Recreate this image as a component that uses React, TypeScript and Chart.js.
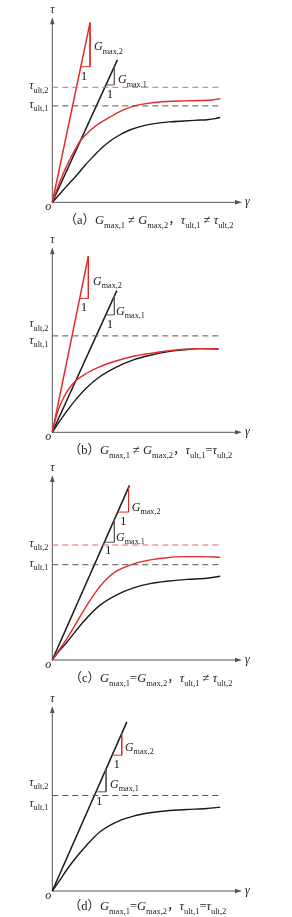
import React, { useEffect, useRef } from "react";
import { Chart, registerables } from "chart.js";
Chart.register(...registerables);

type P = [number, number];

// ---------- colours ----------
const RED = "#e12a2a";
const BLACK = "#1a1a1a";
const TRI_GRAY = "#5a5a5a";
const RED_DASH = "#e86464";
const GRAY_DASH = "#555555";
const AXIS = "#555555";

const DASH_END = 89.9;

// ---------- (a) ----------
const A_SECANT_2: P[] = [[0, 0], [20.0, 97.6]];
const A_TRI_2: P[] = [[20.0, 97.6], [20.0, 73.7], [15.1, 73.7]];
const A_SECANT_1: P[] = [[0, 0], [34.5, 77.4]];
const A_TRI_1: P[] = [[32.9, 73.8], [32.9, 63.8], [28.4, 63.8]];
const A_TAU_ULT_2 = 62.5;
const A_TAU_ULT_1 = 52.4;
const A_CURVE_2: P[] = [[0, 0], [1.4, 4.0], [4.1, 11.4], [7.6, 19.8], [11.2, 27.0], [15.0, 33.6], [20.0, 39.0], [25.3, 43.2], [30.0, 46.0], [36.0, 49.4], [43.0, 52.3], [51.9, 54.0], [60.7, 54.8], [69.6, 55.1], [78.4, 55.3], [84.6, 55.6], [89.0, 56.3]];
const A_CURVE_1: P[] = [[0, 0], [4.1, 4.6], [7.6, 8.8], [10.4, 11.8], [13.5, 15.4], [17.5, 20.3], [22.0, 25.2], [26.3, 29.6], [30.5, 33.2], [35.2, 36.3], [41.0, 39.3], [47.5, 41.4], [55.0, 42.9], [62.0, 43.7], [69.6, 44.2], [78.4, 44.7], [81.9, 44.9], [86.4, 45.5], [89.0, 46.2]];

// ---------- (b) ----------
const B_SECANT_2: P[] = [[0, 0], [19.1, 95.8]];
const B_TRI_2: P[] = [[19.1, 95.8], [19.1, 72.8], [14.5, 72.8]];
const B_SECANT_1: P[] = [[0, 0], [34.2, 77.0]];
const B_TRI_1: P[] = [[32.9, 74.1], [32.9, 63.8], [28.3, 63.8]];
const B_TAU_ULT = 52.4;
const B_CURVE_2: P[] = [[0, 0], [2.3, 9.4], [5.8, 18.5], [9.4, 24.5], [12.9, 28.4], [18.2, 32.1], [25.3, 35.7], [34.2, 38.9], [43.0, 41.3], [51.9, 42.9], [60.7, 44.2], [69.6, 45.1], [78.4, 45.5], [88.1, 45.3]];
const B_CURVE_1: P[] = [[0, 0], [4.1, 6.3], [7.6, 11.4], [12.9, 18.3], [18.2, 24.2], [25.3, 30.3], [34.2, 35.6], [43.0, 39.4], [51.9, 41.9], [60.7, 43.7], [69.6, 44.8], [78.4, 45.5], [88.1, 45.3]];

// ---------- (c) ----------
const C_SECANT: P[] = [[0, 0], [40.9, 94.9]];
const C_TRI_2: P[] = [[40.4, 93.7], [40.4, 80.4], [34.6, 80.4]];
const C_TRI_1: P[] = [[32.9, 76.3], [32.9, 64.0], [27.6, 64.0]];
const C_TAU_ULT_2 = 62.5;
const C_TAU_ULT_1 = 51.8;
const C_CURVE_2: P[] = [[0, 0], [4.1, 6.2], [7.6, 11.4], [12.9, 20.4], [18.2, 29.6], [23.5, 37.6], [28.8, 44.0], [34.2, 48.4], [43.0, 52.2], [51.9, 54.4], [60.7, 55.6], [69.6, 56.2], [78.4, 56.2], [89.0, 55.8]];
const C_CURVE_1: P[] = [[0, 0], [4.1, 5.5], [7.6, 9.5], [16.5, 20.8], [25.3, 29.8], [34.2, 35.4], [43.0, 39.2], [51.9, 41.5], [60.7, 42.8], [71.3, 43.8], [81.9, 44.4], [89.0, 45.5]];

// ---------- (d) ----------
const D_SECANT: P[] = [[0, 0], [39.5, 91.9]];
const D_TRI_2: P[] = [[36.8, 85.6], [36.8, 73.8], [31.7, 73.8]];
const D_TRI_1: P[] = [[28.5, 66.3], [28.5, 53.9], [23.2, 53.9]];
const D_TAU_ULT = 51.9;
const D_CURVE: P[] = [[0, 0], [4.1, 6.0], [7.6, 11.4], [12.9, 18.6], [18.2, 24.9], [25.3, 32.2], [34.2, 37.6], [43.0, 40.7], [51.9, 42.5], [60.7, 43.6], [71.3, 44.3], [81.9, 44.8], [89.0, 45.6]];

// ---------- text ----------
type Seg = { t: string; it?: boolean; sub?: boolean };
const FAMILY = '"Liberation Serif", "Times New Roman", "Noto Sans CJK SC", serif';

const gLabel = (n: string): Seg[] => [{ t: "G", it: true }, { t: "max," + n, sub: true }];
const tLabel = (n: string): Seg[] => [{ t: "τ", it: true }, { t: "ult," + n, sub: true }];
const titleSegs = (letter: string, gRel: string, tRel: string): Seg[] => [
  { t: "（" + letter + "）" },
  ...gLabel("1"),
  { t: gRel },
  ...gLabel("2"),
  { t: "，" },
  ...tLabel("1"),
  { t: tRel },
  ...tLabel("2"),
];

function segFont(s: Seg, size: number) {
  const sz = s.sub ? size * 0.68 : size;
  return `${s.it ? "italic " : ""}${sz}px ${FAMILY}`;
}

function drawRich(ctx: CanvasRenderingContext2D, segs: Seg[], x: number, y: number, size: number, align: "left" | "center" | "right") {
  const widths = segs.map((s) => {
    ctx.font = segFont(s, size);
    return ctx.measureText(s.t).width;
  });
  const total = widths.reduce((a, b) => a + b, 0);
  let cx = align === "left" ? x : align === "right" ? x - total : x - total / 2;
  ctx.textBaseline = "alphabetic";
  ctx.textAlign = "left";
  segs.forEach((s, i) => {
    ctx.font = segFont(s, size);
    ctx.fillText(s.t, cx, s.sub ? y + size * 0.28 : y);
    cx += widths[i];
  });
}

// ---------- panel table ----------
type Tri = { pts: P[]; color: string; n: string; g: P; one: P };
type Dash = { y: number; color: string };
type Line = { pts: P[]; color: string };
type Panel = {
  top: number;
  height: number;
  originY: number;
  secants: Line[];
  tris: Tri[];
  dashes: Dash[];
  curves: Line[];
  ult: { y: number; n: string }[];
  title: Seg[];
  titleY: number;
  titleX: number;
};

const PANELS: Panel[] = [
  {
    top: 0, height: 230, originY: 202.3,
    secants: [{ pts: A_SECANT_2, color: RED }, { pts: A_SECANT_1, color: BLACK }],
    tris: [
      { pts: A_TRI_2, color: RED, n: "2", g: [22.1, 84.8], one: [16.8, 69.0] },
      { pts: A_TRI_1, color: TRI_GRAY, n: "1", g: [34.8, 66.9], one: [30.6, 59.3] },
    ],
    dashes: [{ y: A_TAU_ULT_2, color: RED_DASH }, { y: A_TAU_ULT_1, color: GRAY_DASH }],
    curves: [{ pts: A_CURVE_2, color: RED }, { pts: A_CURVE_1, color: BLACK }],
    ult: [{ y: A_TAU_ULT_2, n: "2" }, { y: A_TAU_ULT_1, n: "1" }],
    title: titleSegs("a", " ≠ ", " ≠ "), titleY: 224, titleX: 149,
  },
  {
    top: 230, height: 230, originY: 202.3,
    secants: [{ pts: B_SECANT_2, color: RED }, { pts: B_SECANT_1, color: BLACK }],
    tris: [
      { pts: B_TRI_2, color: RED, n: "2", g: [21.6, 82.3], one: [16.8, 68.1] },
      { pts: B_TRI_1, color: TRI_GRAY, n: "1", g: [33.8, 66.0], one: [30.6, 59.4] },
    ],
    dashes: [{ y: B_TAU_ULT, color: GRAY_DASH }],
    curves: [{ pts: B_CURVE_2, color: RED }, { pts: B_CURVE_1, color: BLACK }],
    ult: [{ y: 58.2, n: "2" }, { y: 49.2, n: "1" }],
    title: titleSegs("b", " ≠ ", "="), titleY: 224, titleX: 150.5,
  },
  {
    top: 460, height: 230, originY: 200,
    secants: [{ pts: C_SECANT, color: BLACK }],
    tris: [
      { pts: C_TRI_2, color: RED, n: "2", g: [42.1, 83.1], one: [37.6, 75.8] },
      { pts: C_TRI_1, color: TRI_GRAY, n: "1", g: [33.8, 66.9], one: [29.7, 60.0] },
    ],
    dashes: [{ y: C_TAU_ULT_2, color: RED_DASH }, { y: C_TAU_ULT_1, color: GRAY_DASH }],
    curves: [{ pts: C_CURVE_2, color: RED }, { pts: C_CURVE_1, color: BLACK }],
    ult: [{ y: C_TAU_ULT_2, n: "2" }, { y: C_TAU_ULT_1, n: "1" }],
    title: titleSegs("c", "=", " ≠ "), titleY: 222, titleX: 151,
  },
  {
    top: 690, height: 227, originY: 201,
    secants: [{ pts: D_SECANT, color: BLACK }],
    tris: [
      { pts: D_TRI_2, color: RED, n: "2", g: [38.5, 78.3], one: [34.1, 69.3] },
      { pts: D_TRI_1, color: TRI_GRAY, n: "1", g: [30.6, 58.1], one: [24.9, 49.4] },
    ],
    dashes: [{ y: D_TAU_ULT, color: GRAY_DASH }],
    curves: [{ pts: D_CURVE, color: BLACK }],
    ult: [{ y: 58.4, n: "2" }, { y: 46.7, n: "1" }],
    title: titleSegs("d", "=", "="), titleY: 220, titleX: 147.5,
  },
];

const W = 292;
const ORIGIN_X = 52.3;
const X_TIP = 241;
const AXIS_H = 184;

const toXY = (pts: P[]) => pts.map(([x, y]) => ({ x, y }));

function makeDecor(p: Panel) {
  return {
    id: "decor",
    beforeDatasetsDraw(chart: any) {
      const { ctx, scales } = chart;
      const x = scales.x, y = scales.y;
      const ox = x.getPixelForValue(0), oy = y.getPixelForValue(0);
      const tx = x.getPixelForValue(100), ty = y.getPixelForValue(100);
      ctx.save();
      ctx.strokeStyle = AXIS;
      ctx.fillStyle = AXIS;
      ctx.lineWidth = 1;
      ctx.beginPath();
      ctx.moveTo(ox, oy);
      ctx.lineTo(tx - 3, oy);
      ctx.moveTo(ox, oy);
      ctx.lineTo(ox, ty + 3);
      ctx.stroke();
      ctx.beginPath();
      ctx.moveTo(tx + 1, oy);
      ctx.lineTo(tx - 6, oy - 2.3);
      ctx.lineTo(tx - 6, oy + 2.3);
      ctx.closePath();
      ctx.fill();
      ctx.beginPath();
      ctx.moveTo(ox, ty - 1);
      ctx.lineTo(ox - 2.3, ty + 6);
      ctx.lineTo(ox + 2.3, ty + 6);
      ctx.closePath();
      ctx.fill();
      ctx.restore();
    },
    afterDatasetsDraw(chart: any) {
      const { ctx, scales } = chart;
      const x = scales.x, y = scales.y;
      const ox = x.getPixelForValue(0), oy = y.getPixelForValue(0);
      const tx = x.getPixelForValue(100), ty = y.getPixelForValue(100);
      ctx.save();
      ctx.fillStyle = "#222";
      drawRich(ctx, [{ t: "τ", it: true }], ox, ty - 5, 12, "center");
      drawRich(ctx, [{ t: "γ", it: true }], tx + 4, oy + 3, 12, "left");
      drawRich(ctx, [{ t: "o", it: true }], ox - 4, oy + 8, 12, "center");
      p.ult.forEach((u) => {
        drawRich(ctx, tLabel(u.n), ox - 4, y.getPixelForValue(u.y) + 2, 12, "right");
      });
      p.tris.forEach((t) => {
        drawRich(ctx, gLabel(t.n), x.getPixelForValue(t.g[0]), y.getPixelForValue(t.g[1]) + 4, 12, "left");
        drawRich(ctx, [{ t: "1" }], x.getPixelForValue(t.one[0]), y.getPixelForValue(t.one[1]) + 4.5, 13, "center");
      });
      drawRich(ctx, p.title, p.titleX, p.titleY, 12.5, "center");
      ctx.restore();
    },
  };
}

function buildConfig(p: Panel): any {
  const datasets: any[] = [];
  p.dashes.forEach((d) =>
    datasets.push({
      data: toXY([[0, d.y], [DASH_END, d.y]]),
      borderColor: d.color, borderWidth: 1, borderDash: [6, 4],
      pointRadius: 0, showLine: true, fill: false, clip: false,
    })
  );
  p.curves.forEach((c) =>
    datasets.push({
      data: toXY(c.pts), borderColor: c.color, borderWidth: 1.4,
      pointRadius: 0, showLine: true, fill: false, clip: false,
      cubicInterpolationMode: "monotone",
    })
  );
  p.tris.forEach((t) =>
    datasets.push({
      data: toXY(t.pts), borderColor: t.color, borderWidth: 1,
      pointRadius: 0, showLine: true, fill: false, clip: false, tension: 0,
    })
  );
  p.secants.forEach((s) =>
    datasets.push({
      data: toXY(s.pts), borderColor: s.color, borderWidth: 1.5,
      pointRadius: 0, showLine: true, fill: false, clip: false, tension: 0,
    })
  );
  return {
    type: "scatter",
    data: { datasets },
    options: {
      animation: false,
      responsive: false,
      devicePixelRatio: 1,
      events: [],
      layout: {
        padding: {
          left: ORIGIN_X,
          right: W - X_TIP,
          top: p.originY - AXIS_H,
          bottom: p.height - p.originY,
        },
      },
      scales: {
        x: { type: "linear", min: 0, max: 100, display: false },
        y: { type: "linear", min: 0, max: 100, display: false },
      },
      plugins: { legend: { display: false }, tooltip: { enabled: false } },
    },
    plugins: [makeDecor(p)],
  };
}

function PanelChart({ p }: { p: Panel }) {
  const ref = useRef<HTMLCanvasElement>(null);
  useEffect(() => {
    const chart = new Chart(ref.current!, buildConfig(p));
    return () => chart.destroy();
  }, [p]);
  return (
    <canvas
      ref={ref}
      width={W}
      height={p.height}
      style={{ position: "absolute", left: 0, top: p.top, width: W, height: p.height, display: "block" }}
    />
  );
}

export default function App() {
  return (
    <div style={{ position: "absolute", left: 0, top: 0, width: W, height: 917, background: "#fff", overflow: "hidden" }}>
      {PANELS.map((p, i) => (
        <PanelChart key={i} p={p} />
      ))}
    </div>
  );
}
